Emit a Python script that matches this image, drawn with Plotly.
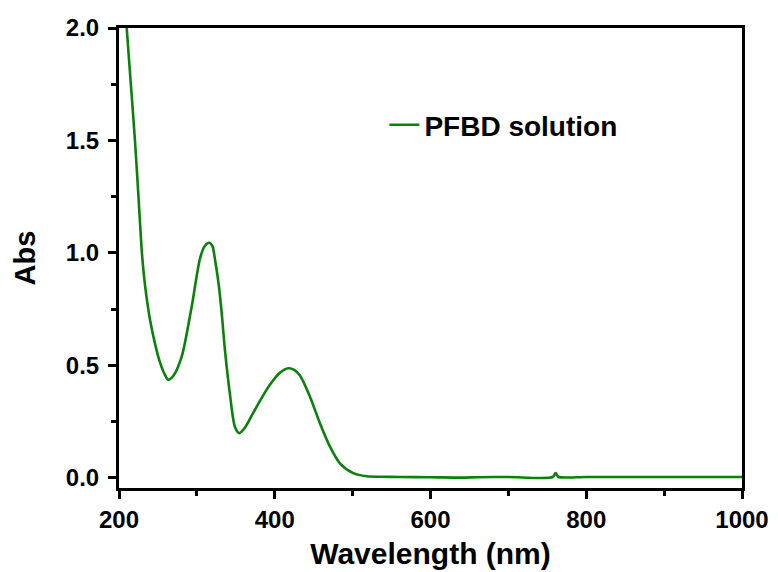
import plotly.graph_objects as go

# Data
wavelength = [206, 209.9, 215, 220.5, 225, 229, 232, 235.5, 240, 246, 252, 258, 263.3, 270,
              280.5, 293.3, 304, 310, 316, 320, 323.3, 328, 331.9, 336, 342.5, 349, 354.5,
              362, 372.5, 384, 394, 407, 417.4, 425, 432.4, 445.2, 458, 470.9, 483.7, 500.8,
              518, 535, 560, 600, 640, 660, 700, 757, 760.7, 764, 800, 850, 900, 950, 1000]
absorbance = [2.2, 2.0, 1.76, 1.50, 1.25, 1.02, 0.90, 0.80, 0.70, 0.60, 0.52, 0.465, 0.436,
              0.455, 0.539, 0.761, 0.975, 1.03, 1.045, 1.03, 0.97, 0.86, 0.732, 0.57, 0.37,
              0.225, 0.199, 0.225, 0.29, 0.36, 0.415, 0.468, 0.487, 0.48, 0.455, 0.361, 0.243,
              0.139, 0.065, 0.021, 0.007, 0.005, 0.004, 0.003, 0.001, 0.003, 0.004, 0.004,
              0.022, 0.005, 0.004, 0.004, 0.004, 0.004, 0.004]
series_name = "PFBD solution"
x_ticks = [200, 400, 600, 800, 1000]
y_ticks = [0.0, 0.5, 1.0, 1.5, 2.0]

FONT = "Liberation Sans, Arial, sans-serif"

fig = go.Figure()
fig.add_trace(go.Scatter(
    x=wavelength, y=absorbance, mode="lines", name=series_name,
    line=dict(color="#0c800c", width=2.6, shape="spline", smoothing=0.8),
))

axis_common = dict(
    showline=True, linecolor="black", linewidth=3, mirror=True,
    ticks="outside", ticklen=8, tickwidth=3, tickcolor="black",
    showgrid=False, zeroline=False,
    tickfont=dict(family=FONT, size=24, color="black", weight="bold"),
)

fig.update_xaxes(
    range=[200, 1000], tickvals=x_ticks, ticktext=[str(v) for v in x_ticks],
    minor=dict(ticks="outside", ticklen=5, tickwidth=3, tickcolor="black", dtick=100, tick0=200),
    title=dict(text="Wavelength (nm)", font=dict(family=FONT, size=30, color="black", weight="bold"),
               standoff=12),
    **axis_common,
)
fig.update_yaxes(
    range=[-0.045, 2.0], tickvals=y_ticks, ticktext=[f"{v:.1f}" for v in y_ticks],
    minor=dict(ticks="outside", ticklen=5, tickwidth=3, tickcolor="black", dtick=0.25, tick0=0),
    ticklabelstandoff=4,
    title=dict(text="Abs", font=dict(family=FONT, size=29, color="black", weight="bold"),
               standoff=22),
    **axis_common,
)

fig.update_layout(
    width=770, height=564,
    margin=dict(l=111, r=36, t=20, b=84, autoexpand=False),
    paper_bgcolor="white", plot_bgcolor="white",
    showlegend=True,
    legend=dict(x=0.426, y=0.789, xanchor="left", yanchor="middle",
                bgcolor="rgba(0,0,0,0)", borderwidth=0,
                font=dict(family=FONT, size=28, color="black", weight="bold")),
)

fig.write_html("out.html")
